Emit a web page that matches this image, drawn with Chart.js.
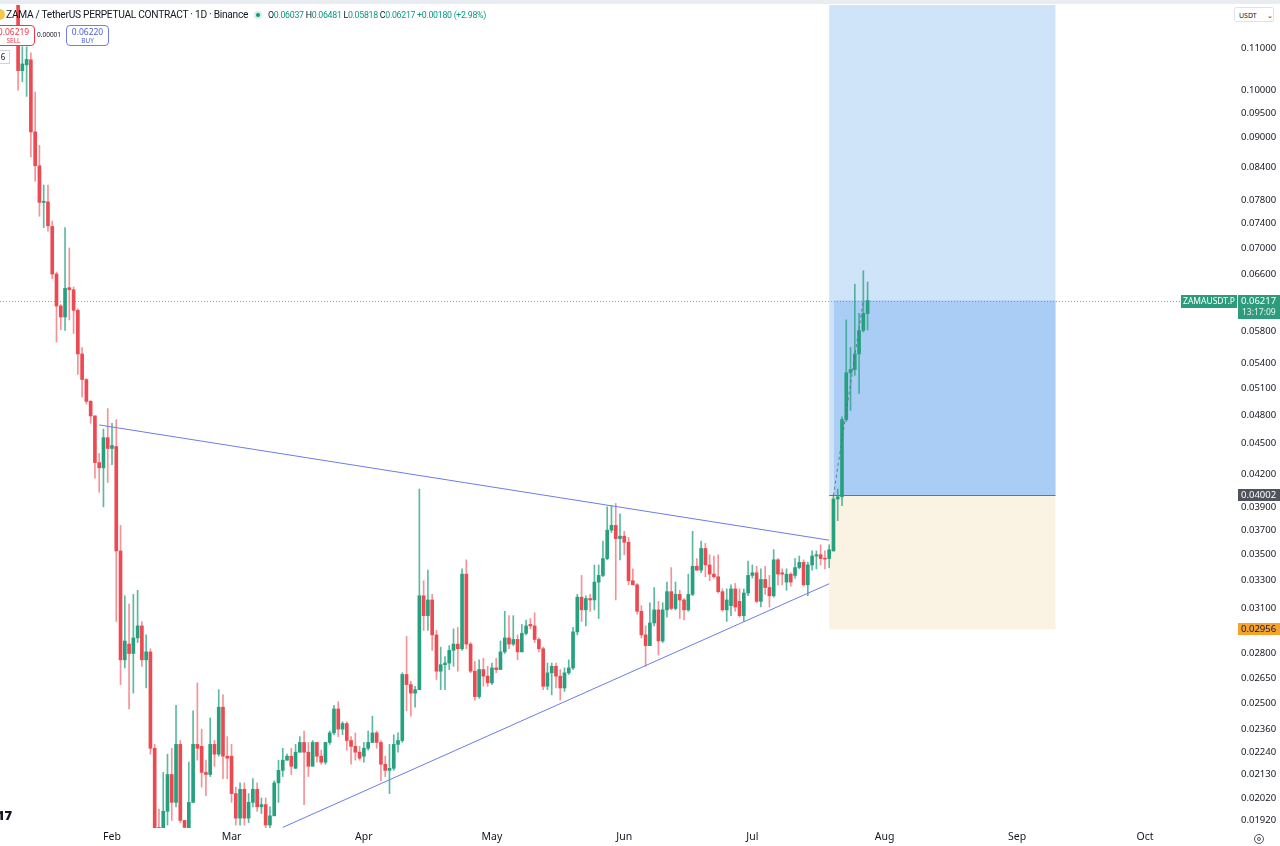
<!DOCTYPE html>
<html><head><meta charset="utf-8">
<script src="https://cdn.jsdelivr.net/npm/chart.js@4.4.1/dist/chart.umd.min.js"></script>
<style>
html,body{margin:0;padding:0;background:#fff;}
#wrap{position:relative;width:1280px;height:846px;overflow:hidden;font-family:"Noto Sans",sans-serif;color:#131722;}
#c{position:absolute;left:0;top:0;}
.ov{position:absolute;white-space:nowrap;}
</style></head><body>
<div id="wrap">
<canvas id="c" width="1280" height="846"></canvas>
<div class="ov" style="left:0;top:0;width:1280px;height:4px;background:#e9ecf1;"></div>
<div class="ov" style="left:-6px;top:9px;width:11px;height:11px;border-radius:50%;background:#f2c94c;"></div>
<div class="ov" style="left:6px;top:7px;font-family:Roboto;font-size:10.2px;letter-spacing:-0.28px;line-height:16px;">ZAMA / TetherUS PERPETUAL CONTRACT · 1D · Binance</div>
<div class="ov" style="left:254px;top:11px;width:8px;height:8px;border-radius:50%;background:#d6eee6;"></div>
<div class="ov" style="left:256px;top:13px;width:4px;height:4px;border-radius:50%;background:#089981;"></div>
<div class="ov" style="left:268px;top:8px;font-family:Roboto;font-size:8.8px;letter-spacing:-0.29px;line-height:14px;color:#089981;"><span style="color:#131722">O</span>0.06037 <span style="color:#131722">H</span>0.06481 <span style="color:#131722">L</span>0.05818 <span style="color:#131722">C</span>0.06217 +0.00180 (+2.98%)</div>
<div class="ov" style="left:-8px;top:25px;width:41px;height:19px;border:1px solid #f23645;border-radius:4px;background:#fff;text-align:center;color:#f23645;">
 <div style="font-size:8.5px;line-height:10px;margin-top:1px;">0.06219</div><div style="font-size:6.5px;line-height:8px;">SELL</div></div>
<div class="ov" style="left:37px;top:30px;font-size:6.5px;line-height:10px;">0.00001</div>
<div class="ov" style="left:66px;top:25px;width:41px;height:19px;border:1px solid #6e7fe6;border-radius:4px;background:#fff;text-align:center;color:#4a5fd8;">
 <div style="font-size:8.5px;line-height:10px;margin-top:1px;">0.06220</div><div style="font-size:6.5px;line-height:8px;">BUY</div></div>
<div class="ov" style="left:-4px;top:50px;width:12px;height:12px;border:1px solid #d1d4dc;background:#fff;font-size:8px;line-height:12px;text-align:center;">6</div>
<div class="ov" style="left:1234px;top:7px;width:40px;height:15px;border:1px solid #e0e3eb;border-radius:2px;background:#fff;font-size:7px;line-height:15px;padding-left:4px;box-sizing:border-box;">USDT <span style="margin-left:8px;">&#8964;</span></div>
<div class="ov" style="left:-3px;top:808px;font-size:13px;font-weight:900;line-height:14px;color:#131722;">17</div>
<div class="ov" style="left:1254px;top:834px;width:8px;height:8px;border:1px solid #50535e;border-radius:50%;"></div>
<div class="ov" style="left:1257px;top:837px;width:4px;height:4px;border:1px solid #50535e;border-radius:50%;box-sizing:border-box;"></div>
</div>
<script>
// ---------- DATA ----------
const firstCandleDate = '2026-01-10';
const opens = [0.1230,0.1045,0.1059,0.1071,0.0910,0.0843,0.0776,0.0777,0.0735,0.0660,
0.0614,0.0599,0.0640,0.0637,0.0608,0.0551,0.0520,0.0495,0.0479,0.0431,
0.0426,0.0456,0.0445,0.0447,0.0353,0.0276,0.0286,0.0280,0.0290,0.0298,
0.0276,0.0281,0.0226,0.0189,0.0186,0.0196,0.0213,0.0200,0.0228,0.0192,
0.0188,0.0200,0.0228,0.0227,0.0214,0.0213,0.0228,0.0223,0.0248,0.0222,0.0222,
0.0204,0.0193,0.0206,0.0193,0.0200,0.0206,0.0198,0.0199,0.0190,0.0194,
0.0209,0.0215,0.0220,0.0222,0.0216,0.0224,0.0229,0.0224,0.0217,0.0229,
0.0222,0.0219,0.0229,0.0234,0.0247,0.0236,0.0239,0.0230,0.0227,0.0224,
0.0222,0.0226,0.0229,0.0234,0.0229,0.0218,0.0215,0.0216,0.0228,0.0230,
0.0267,0.0261,0.0256,0.0258,0.0319,0.0305,0.0316,0.0292,0.0269,0.0273,
0.0274,0.0282,0.0286,0.0283,0.0335,0.0286,0.0269,0.0254,0.0270,0.0266,
0.0262,0.0271,0.0270,0.0281,0.0290,0.0286,0.0289,0.0281,0.0293,0.0299,
0.0298,0.0289,0.0283,0.0260,0.0268,0.0272,0.0266,0.0259,0.0268,0.0271,
0.0294,0.0318,0.0309,0.0317,0.0316,0.0329,0.0334,0.0347,0.0370,0.0374,
0.0363,0.0365,0.0360,0.0330,0.0327,0.0308,0.0292,0.0285,0.0300,0.0309,
0.0288,0.0309,0.0322,0.0310,0.0320,0.0316,0.0309,0.0320,0.0341,0.0338,
0.0355,0.0342,0.0335,0.0333,0.0322,0.0309,0.0312,0.0324,0.0315,0.0305,
0.0321,0.0334,0.0336,0.0315,0.0331,0.0325,0.0319,0.0346,0.0336,0.0329,
0.0335,0.0334,0.0340,0.0344,0.0327,0.0342,0.0349,0.0350,0.0347,0.0347,
0.0353,0.0397,0.0399,0.0475,0.0528,0.0532,0.0551,0.0581,0.06037];
const highs = [0.1250,0.1103,0.1103,0.1088,0.0996,0.0883,0.0807,0.0807,0.0744,0.0663,
0.0616,0.0733,0.0700,0.0641,0.0610,0.0559,0.0521,0.0496,0.0479,0.0440,
0.0465,0.0487,0.0471,0.0475,0.0374,0.0319,0.0313,0.0320,0.0323,0.0301,
0.0292,0.0283,0.0228,0.0197,0.0214,0.0223,0.0226,0.0249,0.0230,0.0192,
0.0219,0.0246,0.0262,0.0236,0.0220,0.0242,0.0230,0.0258,0.0255,0.0232,0.0228,
0.0207,0.0209,0.0209,0.0204,0.0211,0.0209,0.0202,0.0202,0.0198,0.0210,
0.0220,0.0226,0.0223,0.0226,0.0228,0.0232,0.0235,0.0229,0.0230,0.0229,
0.0225,0.0229,0.0235,0.0249,0.0251,0.0240,0.0240,0.0232,0.0234,0.0227,
0.0229,0.0235,0.0243,0.0235,0.0230,0.0222,0.0228,0.0233,0.0234,0.0268,
0.0291,0.0263,0.0260,0.0406,0.0330,0.0338,0.0320,0.0295,0.0284,0.0278,
0.0285,0.0296,0.0297,0.0339,0.0346,0.0287,0.0275,0.0276,0.0277,0.0272,
0.0274,0.0277,0.0288,0.0308,0.0305,0.0305,0.0292,0.0299,0.0302,0.0303,
0.0307,0.0290,0.0284,0.0274,0.0274,0.0274,0.0270,0.0271,0.0276,0.0297,
0.0320,0.0334,0.0319,0.0320,0.0342,0.0342,0.0361,0.0390,0.0391,0.0393,
0.0384,0.0369,0.0364,0.0339,0.0328,0.0312,0.0298,0.0314,0.0325,0.0315,
0.0314,0.0329,0.0340,0.0329,0.0323,0.0317,0.0335,0.0369,0.0347,0.0361,
0.0359,0.0350,0.0349,0.0350,0.0324,0.0324,0.0327,0.0328,0.0324,0.0324,
0.0345,0.0342,0.0341,0.0339,0.0341,0.0334,0.0354,0.0347,0.0339,0.0339,
0.0336,0.0347,0.0349,0.0346,0.0344,0.0353,0.0353,0.0358,0.0353,0.0358,
0.0400,0.0406,0.0478,0.0595,0.0559,0.0645,0.0604,0.0665,0.06481];
const lows = [0.1000,0.1019,0.0986,0.0860,0.0814,0.0752,0.0733,0.0727,0.0653,0.0566,
0.0582,0.0581,0.0595,0.0577,0.0526,0.0500,0.0492,0.0471,0.0416,0.0403,
0.0390,0.0412,0.0429,0.0301,0.0261,0.0271,0.0247,0.0256,0.0287,0.0272,
0.0259,0.0223,0.0185,0.0180,0.0184,0.0190,0.0192,0.0198,0.0191,0.0186,
0.0186,0.0200,0.0220,0.0207,0.0203,0.0212,0.0217,0.0222,0.0211,0.0211,0.0200,
0.0190,0.0190,0.0190,0.0191,0.0198,0.0196,0.0195,0.0188,0.0188,0.0194,
0.0200,0.0212,0.0220,0.0213,0.0216,0.0224,0.0199,0.0212,0.0217,0.0219,
0.0218,0.0218,0.0228,0.0233,0.0232,0.0233,0.0225,0.0218,0.0220,0.0220,
0.0219,0.0225,0.0229,0.0226,0.0210,0.0212,0.0204,0.0215,0.0224,0.0229,
0.0246,0.0243,0.0248,0.0258,0.0295,0.0295,0.0282,0.0264,0.0258,0.0258,
0.0270,0.0272,0.0269,0.0282,0.0283,0.0268,0.0252,0.0253,0.0260,0.0260,
0.0261,0.0268,0.0270,0.0280,0.0283,0.0285,0.0276,0.0281,0.0292,0.0296,
0.0287,0.0281,0.0258,0.0258,0.0255,0.0259,0.0252,0.0257,0.0267,0.0270,
0.0292,0.0301,0.0298,0.0308,0.0309,0.0303,0.0333,0.0346,0.0368,0.0316,
0.0346,0.0350,0.0327,0.0327,0.0306,0.0290,0.0272,0.0285,0.0298,0.0279,
0.0287,0.0304,0.0309,0.0309,0.0303,0.0302,0.0308,0.0319,0.0338,0.0336,
0.0333,0.0330,0.0332,0.0321,0.0308,0.0301,0.0305,0.0308,0.0304,0.0301,
0.0319,0.0332,0.0314,0.0311,0.0320,0.0311,0.0318,0.0327,0.0327,0.0323,
0.0326,0.0332,0.0339,0.0326,0.0319,0.0338,0.0339,0.0342,0.0339,0.0340,
0.0353,0.0378,0.0391,0.0473,0.0485,0.0525,0.0504,0.0579,0.05818];
const closes = [0.1045,0.1061,0.1072,0.0910,0.0843,0.0776,0.0778,0.0736,0.0660,0.0614,
0.0599,0.0639,0.0637,0.0608,0.0551,0.0520,0.0495,0.0479,0.0431,0.0426,
0.0456,0.0445,0.0448,0.0353,0.0276,0.0288,0.0280,0.0290,0.0298,0.0276,
0.0281,0.0226,0.0188,0.0184,0.0196,0.0213,0.0200,0.0228,0.0192,0.0189,
0.0200,0.0228,0.0226,0.0214,0.0213,0.0228,0.0223,0.0248,0.0222,0.0221,0.0204,
0.0193,0.0206,0.0193,0.0200,0.0206,0.0198,0.0199,0.0190,0.0194,0.0209,
0.0215,0.0220,0.0222,0.0217,0.0224,0.0229,0.0224,0.0217,0.0229,0.0222,
0.0219,0.0229,0.0234,0.0247,0.0236,0.0239,0.0230,0.0227,0.0224,0.0221,
0.0226,0.0229,0.0234,0.0229,0.0218,0.0215,0.0216,0.0228,0.0230,0.0267,
0.0261,0.0256,0.0258,0.0319,0.0305,0.0316,0.0292,0.0269,0.0273,0.0274,
0.0282,0.0286,0.0283,0.0335,0.0286,0.0269,0.0254,0.0270,0.0266,0.0262,
0.0271,0.0270,0.0281,0.0290,0.0286,0.0289,0.0281,0.0293,0.0298,0.0298,
0.0289,0.0283,0.0260,0.0268,0.0272,0.0266,0.0259,0.0268,0.0271,0.0294,
0.0318,0.0309,0.0317,0.0316,0.0329,0.0334,0.0347,0.0370,0.0374,0.0363,
0.0365,0.0360,0.0330,0.0327,0.0308,0.0292,0.0285,0.0300,0.0309,0.0288,
0.0309,0.0322,0.0310,0.0320,0.0316,0.0309,0.0320,0.0341,0.0338,0.0355,
0.0342,0.0335,0.0333,0.0322,0.0309,0.0316,0.0324,0.0311,0.0305,0.0321,
0.0334,0.0336,0.0315,0.0331,0.0325,0.0319,0.0346,0.0335,0.0335,0.0335,
0.0329,0.0340,0.0344,0.0327,0.0342,0.0349,0.0350,0.0347,0.03465,0.0354,
0.0397,0.0399,0.0475,0.0528,0.0532,0.0551,0.0581,0.0604,0.06217];

const monthTickDates = ['2026-02-01','2026-03-01','2026-04-01','2026-05-01','2026-06-01','2026-07-01','2026-08-01','2026-09-01','2026-10-01'];
const monthTickLabels = ['Feb','Mar','Apr','May','Jun','Jul','Aug','Sep','Oct'];
const priceTicks = [0.11,0.10,0.095,0.09,0.084,0.078,0.074,0.07,0.066,0.058,0.054,0.051,0.048,0.045,0.042,0.039,0.037,0.035,0.033,0.031,0.028,0.0265,0.025,0.0236,0.0224,0.0213,0.0202,0.0192];

const upperTrendDates = ['2026-01-29','2026-07-19'];
const upperTrendPrices = [0.04693,0.03617];
const lowerTrendDates = ['2026-03-13','2026-07-19'];
const lowerTrendPrices = [0.0189,0.03278];

const positionStartDate = '2026-07-19';
const positionFillDate = '2026-07-20';
const positionEndDate = '2026-09-10';
const positionEntry = 0.04002;
const positionStop = 0.02956;
const positionTarget = 0.1300;
const lastPrice = 0.06217;
const lastDate = '2026-07-27';
const symbolName = 'ZAMAUSDT.P';
const countdown = '13:17:09';

// ---------- HELPERS ----------
const ORIGIN = Date.UTC(2026,1,1);
function dayNum(s){const p=s.split('-').map(Number);return (Date.UTC(p[0],p[1]-1,p[2])-ORIGIN)/86400000;}
const startDay = dayNum(firstCandleDate);
const candleDays = opens.map((_,i)=>startDay+i);
const monthTickDays = monthTickDates.map(dayNum);

const UP='#26a17f', DOWN='#ec4a52';
const UPW='rgba(38,161,127,0.75)', DOWNW='rgba(236,74,82,0.6)';
const isUp = opens.map((o,i)=>closes[i]>=o);

const overlay = {
  id:'overlay',
  beforeDatasetsDraw(chart){
    const {ctx, chartArea:a, scales:{x,y}} = chart;
    ctx.save();
    ctx.beginPath(); ctx.rect(a.left,a.top,a.right-a.left,a.bottom-a.top); ctx.clip();
    const x0=x.getPixelForValue(dayNum(positionStartDate)), x1=x.getPixelForValue(dayNum(positionFillDate))+0.5, x2=x.getPixelForValue(dayNum(positionEndDate));
    const yT=y.getPixelForValue(positionTarget), yE=y.getPixelForValue(positionEntry), yS=y.getPixelForValue(positionStop), yC=y.getPixelForValue(lastPrice);
    ctx.fillStyle='#cfe3f9'; ctx.fillRect(x0,yT,x2-x0,yE-yT);
    ctx.fillStyle='#a9cdf4'; ctx.fillRect(x1,yC,x2-x1,yE-yC);
    ctx.fillStyle='#faf2e2'; ctx.fillRect(x0,yE,x2-x0,yS-yE);
    ctx.strokeStyle='#6f737c'; ctx.lineWidth=1;
    ctx.beginPath(); ctx.moveTo(x0,Math.round(yE)+0.5); ctx.lineTo(x2,Math.round(yE)+0.5); ctx.stroke();
    ctx.setLineDash([1,2]); ctx.strokeStyle='rgba(120,123,134,0.75)';
    ctx.beginPath(); ctx.moveTo(a.left,Math.round(yC)+0.5); ctx.lineTo(a.right,Math.round(yC)+0.5); ctx.stroke();
    ctx.restore();
  },
  afterDatasetsDraw(chart){
    const {ctx, chartArea:a, scales:{x,y}} = chart;
    ctx.save();
    ctx.setLineDash([3,3]); ctx.strokeStyle='rgba(95,105,135,0.85)'; ctx.lineWidth=1;
    ctx.beginPath();
    ctx.moveTo(x.getPixelForValue(dayNum(positionFillDate)), y.getPixelForValue(positionEntry));
    ctx.lineTo(x.getPixelForValue(dayNum(lastDate)), y.getPixelForValue(lastPrice));
    ctx.stroke();
    ctx.restore();
  },
  afterDraw(chart){
    const {ctx, chartArea:a, scales:{y}} = chart;
    const yC=Math.round(y.getPixelForValue(lastPrice)), yE=Math.round(y.getPixelForValue(positionEntry)), yS=Math.round(y.getPixelForValue(positionStop));
    ctx.save();
    ctx.textBaseline='middle';
    function box(xx,top,w,h,bg){ctx.fillStyle=bg; ctx.beginPath(); ctx.rect(xx,top,w,h); ctx.fill();}
    box(1181,yC-6,56,13,'#2e9c7c');
    ctx.fillStyle='#fff'; ctx.font='8.5px "Noto Sans"'; ctx.textAlign='center'; ctx.fillText(symbolName,1209,yC+0.5);
    box(1238,yC-6,42,24,'#2e9c7c');
    ctx.fillStyle='#fff'; ctx.textAlign='left'; ctx.font='9.5px "Noto Sans"'; ctx.fillText(lastPrice.toFixed(5),1241,yC+0.5);
    ctx.font='8.5px "Noto Sans"'; ctx.fillStyle='#e6f4ef'; ctx.fillText(countdown,1242,yC+11.5);
    box(1238,yE-6,42,12,'#50535e');
    ctx.fillStyle='#fff'; ctx.font='9.5px "Noto Sans"'; ctx.fillText(positionEntry.toFixed(5),1241,yE+0.5);
    box(1238,yS-6,42,12,'#f5a32f');
    ctx.fillStyle='#131722'; ctx.fillText(positionStop.toFixed(5),1241,yS+0.5);
    ctx.restore();
  }
};

const trendStyle = {type:'line',borderColor:'#6b7de6',borderWidth:1,pointRadius:0,fill:false,tension:0,order:0};

new Chart(document.getElementById('c'),{
  data:{
    datasets:[
      {...trendStyle, data: upperTrendDates.map((d,i)=>({x:dayNum(d),y:upperTrendPrices[i]}))},
      {...trendStyle, data: lowerTrendDates.map((d,i)=>({x:dayNum(d),y:lowerTrendPrices[i]}))},
      {type:'bar', order:2, grouped:false, barThickness:1,
       data: candleDays.map((d,i)=>({x:d,y:[lows[i],highs[i]]})),
       backgroundColor: isUp.map(u=>u?UPW:DOWNW)},
      {type:'bar', order:1, grouped:false, barThickness:3, minBarLength:1,
       data: candleDays.map((d,i)=>({x:d,y:[opens[i],closes[i]]})),
       backgroundColor: isUp.map(u=>u?UP:DOWN)}
    ]
  },
  options:{
    responsive:false, animation:false, devicePixelRatio:1,
    layout:{padding:{top:5,left:0,right:0,bottom:0}},
    plugins:{legend:{display:false},tooltip:{enabled:false}},
    scales:{
      x:{type:'linear',position:'bottom',min:-26.236,max:263.53,bounds:'data',offset:false,
         grid:{display:false,drawTicks:false,offset:false},border:{display:false},
         afterBuildTicks(s){s.ticks=monthTickDays.map(v=>({value:v}));},
         afterFit(s){s.height=18;s.paddingLeft=0;s.paddingRight=0;},
         ticks:{autoSkip:false,maxRotation:0,padding:3,color:'#131722',font:{family:'Noto Sans',size:10.5},
           callback(v){const k=monthTickDays.indexOf(v);return k>=0?monthTickLabels[k]:'';}}},
      y:{type:'logarithmic',position:'right',min:0.018874,max:0.12123,bounds:'data',
         grid:{display:false,drawTicks:false},border:{display:false},
         afterBuildTicks(s){s.ticks=priceTicks.map(v=>({value:v}));},
         afterFit(s){s.width=43;s.paddingTop=0;s.paddingBottom=0;},
         ticks:{autoSkip:false,padding:4,color:'#131722',font:{family:'Noto Sans',size:9.5},
           callback(v){return Number(v).toFixed(5);}}}
    }
  },
  plugins:[overlay]
});
</script>
</body></html>
